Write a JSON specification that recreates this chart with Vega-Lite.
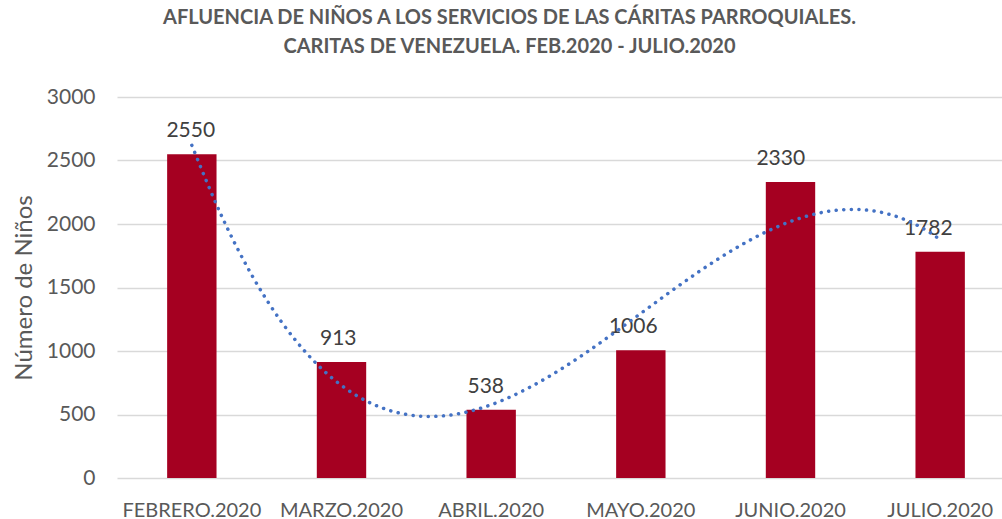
{
  "$schema": "https://vega.github.io/schema/vega-lite/v6.json",
  "autosize": "none",
  "width": 885,
  "height": 381,
  "padding": {"left": 117, "top": 97, "right": 0, "bottom": 41},
  "background": "white",
  "config": {
    "view": {"stroke": null},
    "font": "Lato"
  },
  "title": {
    "text": ["AFLUENCIA DE NIÑOS A LOS SERVICIOS DE LAS CÁRITAS PARROQUIALES.", "CARITAS DE VENEZUELA. FEB.2020 - JULIO.2020"],
    "font": "Lato",
    "fontSize": 20,
    "fontWeight": "bold",
    "color": "#595959",
    "anchor": "middle",
    "dx": -50,
    "lineHeight": 29,
    "offset": 29
  },
  "data": {
    "values": [
      {"mes": "FEBRERO.2020", "idx": 1, "v": 2550},
      {"mes": "MARZO.2020", "idx": 2, "v": 913},
      {"mes": "ABRIL.2020", "idx": 3, "v": 538},
      {"mes": "MAYO.2020", "idx": 4, "v": 1006},
      {"mes": "JUNIO.2020", "idx": 5, "v": 2330},
      {"mes": "JULIO.2020", "idx": 6, "v": 1782}
    ]
  },
  "encoding": {
    "y": {
      "field": "v",
      "type": "quantitative",
      "scale": {"domain": [0, 3000], "nice": false},
      "axis": {
        "title": "Número de Niños",
        "titleFont": "Lato",
        "titleFontSize": 24,
        "titleFontWeight": "normal",
        "titleColor": "#595959",
        "titlePadding": 10,
        "values": [0, 500, 1000, 1500, 2000, 2500, 3000],
        "format": "d",
        "labelFont": "Lato",
        "labelFontSize": 21,
        "labelColor": "#595959",
        "labelPadding": 22,
        "ticks": false,
        "domain": false,
        "grid": true,
        "gridColor": "#d9d9d9",
        "gridWidth": 1.5
      }
    }
  },
  "layer": [
    {
      "mark": {"type": "bar", "color": "#A50021"},
      "encoding": {
        "x": {
          "field": "mes",
          "type": "nominal",
          "sort": null,
          "scale": {"range": [0, 898], "paddingInner": 0.67, "paddingOuter": 0.335},
          "axis": {
            "title": null,
            "labelAngle": 0,
            "labelFont": "Lato",
            "labelFontSize": 20,
            "labelColor": "#595959",
            "labelBaseline": "alphabetic",
            "labelPadding": 38,
            "ticks": false,
            "domain": false
          }
        }
      }
    },
    {
      "mark": {"type": "text", "baseline": "alphabetic", "dy": -17, "font": "Lato", "fontSize": 21, "color": "#404040"},
      "encoding": {
        "x": {"field": "mes", "type": "nominal", "sort": null, "axis": null},
        "text": {"field": "v", "type": "quantitative"}
      }
    },
    {
      "transform": [
        {"regression": "v", "on": "idx", "method": "poly", "order": 3, "extent": [1, 6]}
      ],
      "mark": {"type": "line", "color": "#4472C4", "strokeWidth": 3.5, "strokeDash": [0.1, 7.5], "strokeCap": "round", "interpolate": "monotone"},
      "encoding": {
        "x": {
          "field": "idx",
          "type": "quantitative",
          "scale": {"domain": [0.5, 6.5], "range": [0, 898], "nice": false, "zero": false},
          "axis": null
        }
      }
    }
  ],
  "resolve": {"scale": {"x": "independent"}, "axis": {"x": "independent"}}
}
